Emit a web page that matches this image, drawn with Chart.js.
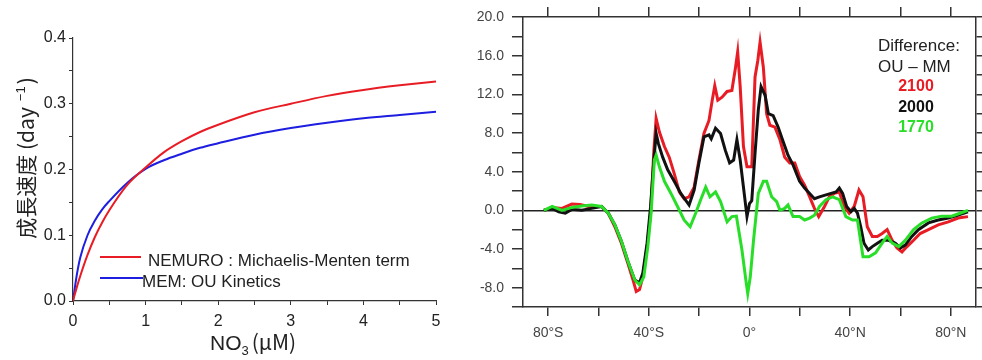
<!DOCTYPE html>
<html>
<head>
<meta charset="utf-8">
<script src="https://cdn.jsdelivr.net/npm/chart.js@4/dist/chart.umd.min.js"></script>
<style>
  body { margin: 0; background: #fff; }
  #wrap { position: relative; width: 982px; height: 360px; }
  canvas { position: absolute; top: 0; }
</style>
</head>
<body>
<div id="wrap">
  <canvas id="uptake" width="460" height="360" style="left:0"></canvas>
  <canvas id="diff" width="522" height="360" style="left:460px"></canvas>
</div>
<script>
// left panel: growth rate vs nitrate
const nitrate    = [0, 0.05, 0.1, 0.2, 0.3, 0.4, 0.5, 0.75, 1, 1.25, 1.5, 1.75, 2, 2.5, 3, 3.5, 4, 4.5, 5];
const nemuroRate = [0, 0.020, 0.038, 0.070, 0.097, 0.119, 0.138, 0.177, 0.203, 0.226, 0.243, 0.257, 0.268, 0.287, 0.300, 0.312, 0.321, 0.328, 0.334];
const memRate    = [0, 0.038, 0.066, 0.100, 0.122, 0.139, 0.152, 0.180, 0.201, 0.214, 0.224, 0.233, 0.240, 0.253, 0.263, 0.271, 0.278, 0.283, 0.288];

// right panel: zonal difference OU - MM
const lat2100 = [-81.7, -78.4, -74.5, -70.6, -67.3, -64, -58.8, -56.1, -53.5, -50.9, -48.3, -46.3, -45, -43.7, -42.4, -40.7, -39.3, -38, -37.1, -35.8,
  -33.8, -31.9, -29.9, -27.9, -26, -24, -22, -20.1, -18.1, -16.1, -14.8, -13.8, -12.6, -10.9, -8.9, -7, -5.6, -4.7, -3.7, -2.4,
  -1, 0.9, 2.2, 3.3, 4.2, 5.5, 6.8, 8.1, 10.1, 12.1, 14, 16, 18, 19.9, 21.9, 23.9, 25.8, 27.5, 29.8, 31.7,
  33.7, 35.7, 37.6, 39.6, 41.6, 43.5, 45.1, 46.8, 48.8, 50.8, 52.7, 54.7, 56.7, 58.6, 60.6, 62.6, 65.2, 67.8, 71.1, 75,
  79, 82.9, 86.8];
const diff2100 = [0, 0.3, 0.2, 0.65, 0.6, 0.4, 0.4, -0.3, -1.7, -3.4, -5.5, -7.2, -8.4, -8.2, -6.9, -3.75, -0.3, 6.2, 9.5, 8.1,
  6.6, 5.5, 3.8, 1.9, 1.2, 1.4, 2.4, 5.2, 7.95, 9.3, 11.4, 12.9, 11.4, 11.7, 12.3, 12.4, 14.7, 16.4, 12.8, 6.6,
  4.5, 4.5, 13.8, 15.5, 17.4, 14.8, 10.0, 8.8, 8.6, 7.3, 5.5, 4.9, 4.9, 3.5, 2.6, 1.4, 0.2, -0.65, 0.4, 1.4,
  1.75, 1.9, 0.4, -0.3, 0.4, 2.1, 1.4, -1.7, -2.7, -2.7, -2.4, -2.0, -3.1, -3.9, -4.3, -3.75, -3.1, -2.4, -2.0, -1.5,
  -1.2, -0.8, -0.65];

const lat2000 = [-81.7, -78.4, -75.8, -73.2, -70.6, -66.6, -62.7, -58.8, -56.1, -53.5, -50.9, -48.3, -45.6, -43.7, -42.4, -40.7, -39.3, -38, -37.1, -36.2,
  -34.5, -32.5, -29.9, -27.3, -24, -22, -20.1, -18.1, -16.1, -15.2, -13.5, -11.5, -9.6, -7.9, -6.3, -5, -3.7, -2.4, -1, 0,
  0.9, 2.2, 3.5, 4.6, 6.2, 7.5, 9.4, 11.4, 13.4, 15.3, 17.3, 19.9, 21.9, 23.9, 25.8, 27.8, 30.4, 32.4, 34.4, 35.7,
  37, 38.6, 40.3, 41.6, 42.9, 44.2, 45.5, 47.2, 48.8, 50.8, 52.7, 55.3, 58, 59.9, 61.9, 64.5, 67.1, 71.1, 75, 79,
  82.9, 86.8];
const diff2000 = [0, 0.2, -0.15, -0.3, 0.1, 0, 0.2, 0.4, -0.3, -1.5, -3.2, -5.3, -7.2, -7.5, -6.5, -3.4, 0.4, 5.2, 7.95, 6.9,
  5.5, 4.2, 3.0, 1.75, 0.55, 2.1, 4.9, 7.6, 7.8, 7.4, 8.5, 7.95, 6.2, 4.9, 5.2, 7.3, 5.2, 2.4, -0.65, 0.7,
  1.0, 5.9, 10.4, 12.8, 11.9, 10.0, 9.8, 8.6, 7.1, 5.7, 4.7, 3.0, 2.3, 1.75, 1.2, 1.4, 1.6, 1.75, 1.9, 2.3,
  1.75, 0.4, -0.15, 0.2, -0.3, -1.7, -3.4, -4.1, -3.75, -3.4, -3.1, -3.1, -3.4, -3.9, -3.6, -2.7, -2.0, -1.3, -1.0, -0.8,
  -0.5, -0.15];

const lat1770 = [-81.7, -78.4, -74.5, -70.6, -66.6, -62.7, -58.8, -56.1, -53.5, -50.9, -48.3, -45.6, -43.7, -42, -40.4, -39.1, -37.8, -37.1, -35.8, -33.8,
  -31.2, -28.6, -26, -23.6, -21.4, -19.4, -17.4, -15.7, -13.5, -11.5, -8.9, -7, -5.2, -3, -1.3, -0.7, 0.3, 1.6, 3.5, 5.5,
  6.8, 8.8, 10.8, 12.1, 14, 15.3, 17.3, 19.9, 21.9, 23.9, 25.8, 27.8, 30.4, 33, 35.7, 38.3, 40.9, 42.9, 45.1, 47.5,
  50.1, 52.7, 54.7, 56.7, 59.3, 61.9, 65.2, 68.5, 72.4, 76.3, 80.3, 84.2, 86.8];
const diff1770 = [0, 0.4, 0, 0.3, 0.45, 0.55, 0.4, -0.3, -1.5, -3.2, -5.3, -7.2, -7.7, -6.9, -3.75, -0.3, 5.2, 5.7, 4.5, 3.0,
  1.75, 0.4, -1.0, -1.7, -0.3, 1.1, 2.4, 1.4, 1.9, 0.9, -1.2, -0.65, -0.6, -4.1, -7.5, -8.6, -6.9, -3.1, 1.75, 3.0,
  3.0, 1.4, 0.9, 0, 0.2, 0.55, -0.65, -0.65, -1.0, -0.8, -0.5, 0.4, 1.1, 1.4, 1.1, -0.65, -1.0, -1.0, -4.8, -4.8,
  -4.4, -3.4, -2.7, -3.4, -3.75, -3.1, -2.0, -1.3, -0.8, -0.6, -0.6, -0.25, 0];

const latTicks = [-80, -60, -40, -20, 0, 20, 40, 60, 80];
const latTickLabels = ['80°S', '', '40°S', '', '0°', '', '40°N', '', '80°N'];

const RED = 'rgb(232, 28, 36)';
const BLUE = 'rgb(30, 30, 225)';
const GREEN = 'rgb(40, 222, 40)';
const SANS = '"Liberation Sans", Arial, sans-serif';

function pairs(xs, ys) {
  return xs.map((x, i) => ({ x: x, y: ys[i] }));
}

function fixSize(w, h) {
  return function (scale) {
    if (w !== null) scale.width = w;
    if (h !== null) scale.height = h;
  };
}

// axis titles + legend of the left panel
const uptakeText = {
  id: 'uptakeText',
  afterDraw(chart) {
    const ctx = chart.ctx;
    ctx.save();
    ctx.lineWidth = 2;
    ctx.strokeStyle = RED;
    ctx.beginPath(); ctx.moveTo(100, 257); ctx.lineTo(141, 257); ctx.stroke();
    ctx.strokeStyle = BLUE;
    ctx.beginPath(); ctx.moveTo(100, 278); ctx.lineTo(143, 278); ctx.stroke();

    ctx.fillStyle = '#222';
    ctx.textBaseline = 'middle';
    ctx.font = '17px ' + SANS;
    ctx.fillText('NEMURO : Michaelis-Menten term', 148, 261);
    ctx.fillText('MEM: OU Kinetics', 142, 282);

    // x title: NO3 (μM)
    ctx.textBaseline = 'alphabetic';
    ctx.font = '21px ' + SANS;
    let x = 210;
    ctx.fillText('NO', x, 350);
    x += ctx.measureText('NO').width;
    ctx.font = '13px ' + SANS;
    ctx.fillText('3', x, 355);
    x += ctx.measureText('3').width + 3;
    ctx.font = '21px "Noto Sans CJK JP", sans-serif';
    ctx.fillText('(μM)', x, 350);

    // y title: 成長速度 (day-1)
    ctx.translate(34, 158);
    ctx.rotate(-Math.PI / 2);
    const main = '成長速度 (day';
    ctx.font = '21px "Noto Sans CJK JP", sans-serif';
    const w1 = ctx.measureText(main).width;
    ctx.font = '13px ' + SANS;
    const w2 = ctx.measureText('−1').width;
    ctx.font = '21px "Noto Sans CJK JP", sans-serif';
    const w3 = ctx.measureText(')').width;
    let sx = -(w1 + 6 + w2 + 2 + w3) / 2;
    ctx.fillText(main, sx, 0);
    sx += w1 + 6;
    ctx.font = '13px ' + SANS;
    ctx.fillText('−1', sx, -9);
    sx += w2 + 2;
    ctx.font = '21px "Noto Sans CJK JP", sans-serif';
    ctx.fillText(')', sx, 0);
    ctx.restore();
  }
};

new Chart(document.getElementById('uptake'), {
  type: 'line',
  data: {
    datasets: [
      { data: pairs(nitrate, nemuroRate), borderColor: RED, borderWidth: 2, pointRadius: 0, cubicInterpolationMode: 'monotone' },
      { data: pairs(nitrate, memRate), borderColor: BLUE, borderWidth: 2, pointRadius: 0, cubicInterpolationMode: 'monotone' }
    ]
  },
  options: {
    responsive: false,
    animation: false,
    layout: { padding: { top: 38, right: 24, left: 0, bottom: 0 } },
    plugins: { legend: { display: false }, tooltip: { enabled: false } },
    scales: {
      x: {
        type: 'linear', min: 0, max: 5,
        afterFit: fixSize(null, 59),
        border: { color: '#333', width: 1.2 },
        grid: { drawOnChartArea: false, tickLength: 4, tickColor: '#333' },
        ticks: {
          stepSize: 0.5, padding: 7, color: '#222', font: { family: SANS, size: 16 },
          callback: v => Number.isInteger(v) ? String(v) : ''
        }
      },
      y: {
        min: 0, max: 0.4,
        afterFit: fixSize(73, null),
        border: { color: '#333', width: 1.2 },
        grid: { drawOnChartArea: false, tickLength: 4, tickColor: '#333' },
        ticks: {
          stepSize: 0.05, padding: 3, color: '#222', font: { family: SANS, size: 16 }, autoSkip: false,
          callback: v => Math.abs(v * 10 - Math.round(v * 10)) < 1e-6 ? v.toFixed(1) : ''
        }
      }
    }
  },
  plugins: [uptakeText]
});

// label block of the right panel
const diffText = {
  id: 'diffText',
  afterDraw(chart) {
    const ctx = chart.ctx;
    ctx.save();
    ctx.textBaseline = 'middle';
    ctx.fillStyle = '#222';
    ctx.font = '17px ' + SANS;
    ctx.fillText('Difference:', 418, 46);
    ctx.fillText('OU – MM', 418, 67);
    ctx.font = 'bold 16px ' + SANS;
    ctx.textAlign = 'center';
    ctx.fillStyle = RED;
    ctx.fillText('2100', 456, 87);
    ctx.fillStyle = '#111';
    ctx.fillText('2000', 456, 108);
    ctx.fillStyle = GREEN;
    ctx.fillText('1770', 456, 128);
    ctx.restore();
  }
};

new Chart(document.getElementById('diff'), {
  type: 'line',
  data: {
    datasets: [
      { label: '1770', data: pairs(lat1770, diff1770), borderColor: GREEN, borderWidth: 3, pointRadius: 0 },
      { label: '2000', data: pairs(lat2000, diff2000), borderColor: '#111', borderWidth: 3, pointRadius: 0 },
      { label: '2100', data: pairs(lat2100, diff2100), borderColor: RED, borderWidth: 3, pointRadius: 0 }
    ]
  },
  options: {
    responsive: false,
    animation: false,
    layout: { padding: 0 },
    plugins: { legend: { display: false }, tooltip: { enabled: false } },
    scales: {
      x: {
        type: 'linear', min: -90, max: 90,
        afterFit: fixSize(null, 53),
        afterBuildTicks: s => { s.ticks = latTicks.map(v => ({ value: v })); },
        border: { color: '#333', width: 1.5 },
        grid: { drawOnChartArea: false, tickLength: 9, tickColor: '#333', lineWidth: 1.5 },
        ticks: {
          padding: 9, color: '#444', font: { family: SANS, size: 14 }, autoSkip: false, maxRotation: 0,
          callback: v => latTickLabels[latTicks.indexOf(v)]
        }
      },
      x2: {
        type: 'linear', position: 'top', min: -90, max: 90,
        afterFit: fixSize(null, 17),
        afterBuildTicks: s => { s.ticks = latTicks.map(v => ({ value: v })); },
        border: { color: '#333', width: 1.5 },
        grid: { drawOnChartArea: false, tickLength: 10, tickColor: '#333', lineWidth: 1.5 },
        ticks: { display: false }
      },
      y: {
        min: -10, max: 20,
        afterFit: fixSize(63, null),
        border: { color: '#333', width: 1.5 },
        grid: {
          drawOnChartArea: true, tickLength: 11, tickColor: '#333', lineWidth: 1.5,
          color: c => (c.tick && c.tick.value === 0) ? '#222' : 'rgba(0,0,0,0)'
        },
        ticks: {
          stepSize: 2, padding: 8, color: '#444', font: { family: SANS, size: 14 }, autoSkip: false,
          callback: v => v % 4 === 0 ? v.toFixed(1) : ''
        }
      },
      y2: {
        position: 'right', min: -10, max: 20,
        afterFit: fixSize(6, null),
        border: { color: '#333', width: 1.5 },
        grid: { drawOnChartArea: false, tickLength: 9, tickColor: '#333', lineWidth: 1.5 },
        ticks: { stepSize: 2, display: false }
      }
    }
  },
  plugins: [diffText]
});
</script>
</body>
</html>
